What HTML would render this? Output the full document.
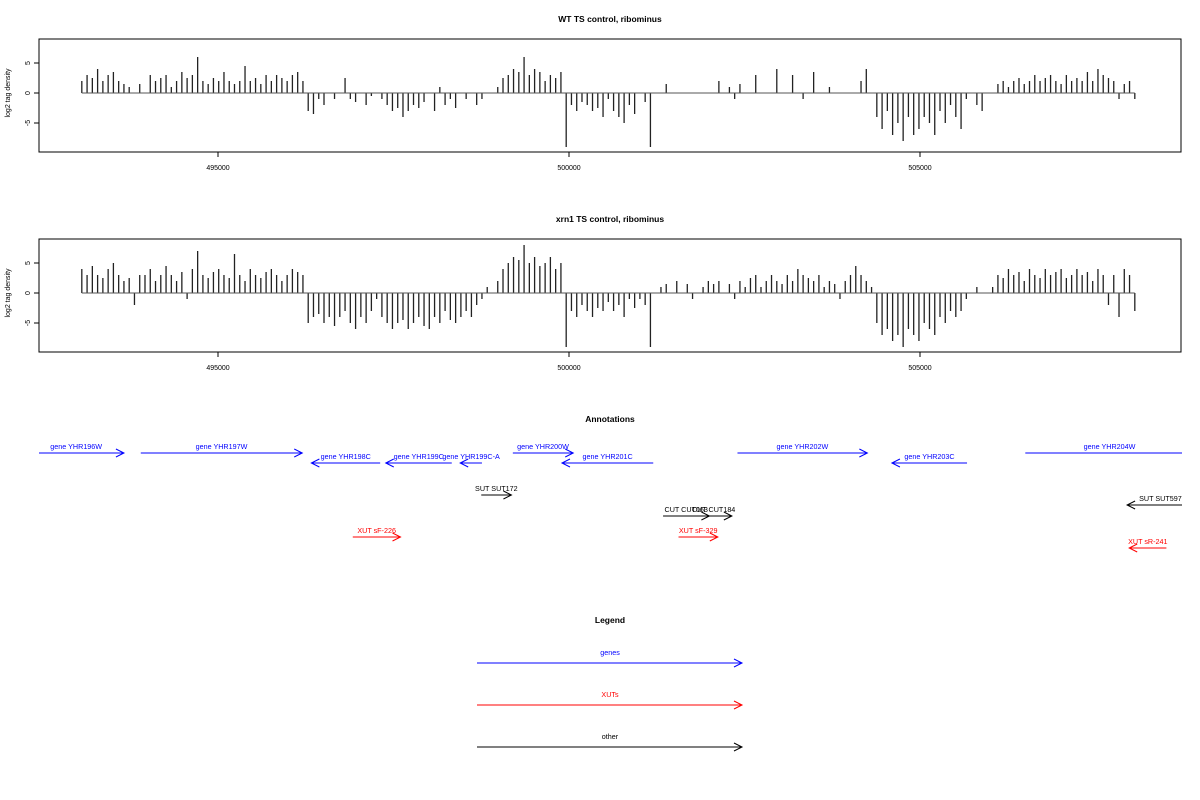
<!DOCTYPE html>
<html><head><meta charset="utf-8"><style>
body{margin:0;background:#fff}
svg{display:block;font-family:"Liberation Sans",sans-serif}
</style></head><body>
<svg id="s" width="1200" height="800" viewBox="0 0 1200 800">
<text x="610" y="22" font-size="8.5" font-weight="bold" text-anchor="middle">WT TS control, ribominus</text>
<text x="610" y="222" font-size="8.5" font-weight="bold" text-anchor="middle">xrn1 TS control, ribominus</text>
<text x="610" y="422" font-size="8.5" font-weight="bold" text-anchor="middle">Annotations</text>
<text x="610" y="623" font-size="8.5" font-weight="bold" text-anchor="middle">Legend</text>
<g id="g"></g>
</svg>
<script>
const ticks=[495000,500000,505000];
const yTicks=[-5,0,5];
const startBp=493060, stepBp=75;
const wt=[2,3,2.5,4,2,3,3.5,2,1.5,
1,0,1.5,
0,3,2,2.5,3,1,2,3.5,2.5,3,6,2,1.5,2.5,2,3.5,2,1.5,2,4.5,2,2.5,1.5,3,2,3,2.5,2,3,3.5,2,
-3,-3.5,-1,-2,0,-1,0,2.5,-1,-1.5,0,-2,-0.5,0,
-1,-2,-3,-2.5,-4,-3,-2,-2.5,-1.5,0,-3,1,-2,-1,-2.5,0,-1,0,-2,
-1,0,0,1,
2.5,3,4,3.5,6,3,4,3.5,2,3,2.5,3.5,
-9,-2,-3,-1.5,-2,-3,-2.5,-4,-1,-3,-4,-5,-2,-3.5,0,-1.5,-9,
0,0,1.5,0,0,0,0,0,0,0,0,0,2,0,1,-1,1.5,0,0,3,0,0,0,4,0,0,3,0,-1,0,3.5,0,0,1,0,0,0,0,0,2,4,0,
-4,-6,-3,-7,-5,-8,-4,-7,-6,-4,-5,-7,-3,-5,-2,-4,-6,
-1,0,-2,-3,0,0,
1.5,2,1,2,2.5,1.5,2,3,2,2.5,3,2,1.5,3,2,2.5,2,3.5,2,4,3,2.5,2,-1,1.5,2,-1];
const xrn=[4,3,4.5,3,2.5,4,5,3,2,
2.5,-2,3,
3,4,2,3,4.5,3,2,3.5,-1,4,7,3,2.5,3.5,4,3,2.5,6.5,3,2,4,3,2.5,3.5,4,3,2,3,4,3.5,3,
-5,-4,-3.5,-5,-4,-5.5,-4,-3,-5,-6,-4,-5,-3,-1,
-4,-5,-6,-5,-4.5,-6,-5,-4,-5.5,-6,-4,-5,-3,-4.5,-5,-4,-3,-4,-2,
-1,1,0,2,
4,5,6,5.5,8,5,6,4.5,5,6,4,5,
-9,-3,-4,-2,-3,-4,-2.5,-3,-1.5,-3,-2,-4,-1,-2.5,-1,-2,-9,
0,1,1.5,0,2,0,1.5,-1,0,1,2,1.5,2,0,1.5,-1,2,1,2.5,3,1,2,3,2,1.5,3,2,4,3,2.5,2,3,1,2,1.5,-1,2,3,4.5,3,2,1,
-5,-7,-6,-8,-7,-9,-6,-7,-8,-5,-6,-7,-4,-5,-3,-4,-3,
-1,0,1,0,0,1,
3,2.5,4,3,3.5,2,4,3,2.5,4,3,3.5,4,2.5,3,4,3,3.5,2,4,3,-2,3,-4,4,3,-3];
const annStart=[492300,493900,497310,498330,498760,499200,501200,502400,505670,506500,498750,501340,501800,508900,496920,501560,508510];
const annEnd=[493660,496200,496330,497390,498450,500060,499900,504250,504600,508900,499180,502000,502320,507950,497600,502120,507980];
const annLabel=["gene YHR196W","gene YHR197W","gene YHR198C","gene YHR199C","gene YHR199C-A","gene YHR200W","gene YHR201C","gene YHR202W","gene YHR203C","gene YHR204W","SUT SUT172","CUT CUT063","CUT CUT184","SUT SUT597","XUT sF-226","XUT sF-329","XUT sR-241"];
const annRow=[453,453,463,463,463,453,463,453,463,453,495,516,516,505,537,537,548];
const annType=["gene","gene","gene","gene","gene","gene","gene","gene","gene","gene","other","other","other","other","xut","xut","xut"];
const legendLabels=["genes","XUTs","other"];
const colors={gene:"#0000ff",xut:"#ff0000",other:"#000"};
const legColors=["#0000ff","#ff0000","#000"];
const NS="http://www.w3.org/2000/svg";
const g=document.getElementById('g');
function xS(bp){return 218+(bp-495000)*0.0702;}
function mk(t,a,p){const e=document.createElementNS(NS,t);for(const k in a)e.setAttribute(k,a[k]);(p||g).appendChild(e);return e;}
function panel(top,vals,nm){
  const y0=top+54;
  const yS=v=>y0-v*6;
  const box=mk('rect',{x:39,y:top,width:1142,height:113,fill:'none',stroke:'#000','stroke-width':1});
  
  
  vals.forEach((v,i)=>{
    if(v===0)return;
    const x=xS(startBp+i*stepBp);
    const b=mk('line',{x1:x,x2:x,y1:y0,y2:yS(v),stroke:'#222','stroke-width':1.3});
    
    
  });
  const z=mk('line',{x1:xS(startBp),x2:xS(startBp+(vals.length-1)*stepBp),y1:y0,y2:y0,stroke:'#555','stroke-width':1});
  
  
  ticks.forEach(t=>{
    const x=xS(t);
    mk('line',{x1:x,x2:x,y1:top+113,y2:top+118,stroke:'#000'});
    const tx=mk('text',{x:x,y:top+131,'font-size':7,'text-anchor':'middle'});tx.textContent=t;
    
    
  });
  yTicks.forEach(t=>{
    const y=yS(t);
    mk('line',{x1:34,x2:39,y1:y,y2:y,stroke:'#000'});
    const tx=mk('text',{x:30,y:y,'font-size':7,'text-anchor':'middle',transform:`rotate(-90 30 ${y})`});tx.textContent=t;
    
    
  });
  const yl=mk('text',{x:10,y:y0,'font-size':7,'text-anchor':'middle',transform:`rotate(-90 10 ${y0})`});yl.textContent='log2 tag density';
  
  
}
panel(39,wt,'wt');
panel(239,xrn,'xrn1');
function arrow(x1,x2,y,col,nm){
  const l=mk('line',{x1:x1,x2:x2,y1:y,y2:y,stroke:col,'stroke-width':1});
  
  
  const d=x2>x1?-1:1;
  mk('path',{d:`M${x2+d*8},${y-4} L${x2},${y} L${x2+d*8},${y+4}`,fill:'none',stroke:col,'stroke-width':1});
}
const clip=mk('clipPath',{id:'c'});mk('rect',{x:39,y:0,width:1143,height:800},clip);
const ag=mk('g',{'clip-path':'url(#c)'});
annLabel.forEach((lab,i)=>{
  const col=colors[annType[i]];
  const x1=xS(annStart[i]),x2=xS(annEnd[i]);
  const l=mk('line',{x1:x1,x2:x2,y1:annRow[i],y2:annRow[i],stroke:col},ag);
  
  
  const d=x2>x1?-1:1;
  mk('path',{d:`M${x2+d*8},${annRow[i]-4} L${x2},${annRow[i]} L${x2+d*8},${annRow[i]+4}`,fill:'none',stroke:col},ag);
  const t=mk('text',{x:(x1+x2)/2,y:annRow[i]-4,'font-size':7.2,'text-anchor':'middle',fill:col},ag);t.textContent=lab;
  
  
});
legendLabels.forEach((lab,i)=>{
  const y=663+i*42;
  arrow(477,742,y,legColors[i],'legend-entry');
  const t=mk('text',{x:610,y:y-8,'font-size':7.2,'text-anchor':'middle',fill:legColors[i]});t.textContent=lab;
  
  
});
</script>
</body></html>
